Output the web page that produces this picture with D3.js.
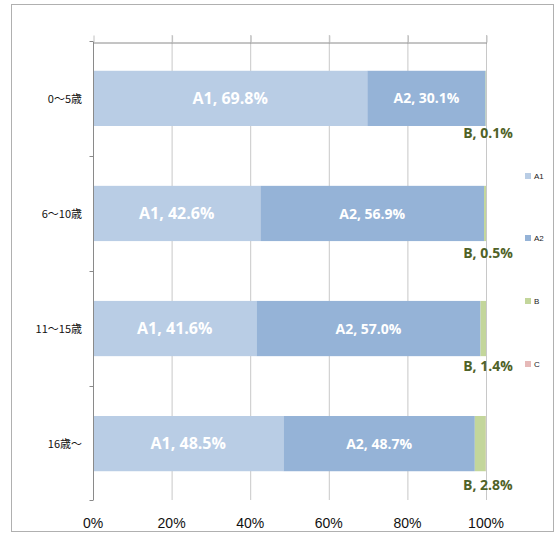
<!DOCTYPE html>
<html>
<head>
<meta charset="utf-8">
<script src="https://cdn.jsdelivr.net/npm/d3@7"></script>
<style>
  body { margin: 0; background: #fff; }
  svg { display: block; font-family: "Liberation Sans", Arial, sans-serif; }
</style>
</head>
<body>
<svg id="chart" width="556" height="533"></svg>
<script>
// data
var categories = ["0～5歳", "6～10歳", "11～15歳", "16歳～"];
var seriesNames = ["A1", "A2", "B", "C"];
var a1 = [69.8, 42.6, 41.6, 48.5];
var a2 = [30.1, 56.9, 57.0, 48.7];
var b  = [0.1, 0.5, 1.4, 2.8];
var c  = [0.0, 0.0, 0.0, 0.05];
var xTicks = [0, 0.2, 0.4, 0.6, 0.8, 1.0];

var colors = ["#b9cde5", "#95b3d7", "#c3d69b", "#e6b9b8"];
// B labels were nudged by hand in the original, offset below each bar
var bLabelDy = [7, 12, 10, 14];

var svg = d3.select("#chart");

// outer frame
svg.append("rect")
    .attr("x", 11.5).attr("y", 4.5)
    .attr("width", 542).attr("height", 527)
    .attr("fill", "#fff")
    .attr("stroke", "#b0b0b0");

var x = d3.scaleLinear().domain([0, 1]).range([93, 486]);
var y = d3.scaleBand().domain(categories).range([42, 500])
    .paddingInner(0.52).paddingOuter(0.25);

// rows -> stacked
var rows = categories.map(function(cat, i) {
    var tot = a1[i] + a2[i] + b[i] + c[i];
    return { cat: cat, i: i, A1: a1[i] / tot, A2: a2[i] / tot, B: b[i] / tot, C: c[i] / tot,
             raw: { A1: a1[i], A2: a2[i], B: b[i], C: c[i] } };
});
var stack = d3.stack().keys(seriesNames)(rows);

// gridlines
svg.append("g").selectAll("line")
    .data(xTicks.slice(1))
    .enter().append("line")
    .attr("x1", function(d) { return x(d) + 0.5; })
    .attr("x2", function(d) { return x(d) + 0.5; })
    .attr("y1", 35).attr("y2", 500)
    .attr("stroke", "#c8c8c8");

// top axis (no labels)
var topAxis = svg.append("g").attr("transform", "translate(0.5,42.5)")
    .call(d3.axisTop(x).tickValues(xTicks).tickSize(7).tickSizeOuter(0).tickFormat(""));
topAxis.select(".domain").attr("stroke", "#8a8a8a");
topAxis.selectAll(".tick line").attr("stroke", "#c0c0c0");

// bars
var layer = svg.append("g").selectAll("g")
    .data(stack)
    .enter().append("g")
    .attr("fill", function(d, i) { return colors[i]; });

layer.selectAll("rect")
    .data(function(d) { return d; })
    .enter().append("rect")
    .attr("x", function(d) { return x(d[0]); })
    .attr("y", function(d) { return y(d.data.cat); })
    .attr("width", function(d) { return x(d[1]) - x(d[0]); })
    .attr("height", y.bandwidth());

// left axis
var leftAxis = svg.append("g").attr("transform", "translate(93.5,0)");
leftAxis.append("line").attr("y1", 42).attr("y2", 500).attr("stroke", "#8a8a8a");
var bounds = categories.map(function(c) { return y(c) - y.step() * y.paddingInner() / 2; });
bounds.push(500);
leftAxis.selectAll("line.t").data(bounds).enter().append("line")
    .attr("class", "t")
    .attr("x1", -4).attr("x2", 0)
    .attr("y1", function(d) { return Math.round(d) + 0.5; })
    .attr("y2", function(d) { return Math.round(d) + 0.5; })
    .attr("stroke", "#8a8a8a");

// category labels
svg.append("g").selectAll("text")
    .data(categories)
    .enter().append("text")
    .attr("x", 82)
    .attr("y", function(d) { return y(d) + y.bandwidth() / 2; })
    .attr("dy", "0.38em")
    .attr("text-anchor", "end")
    .attr("font-family", "'Noto Sans CJK JP', sans-serif")
    .attr("font-size", 11)
    .attr("fill", "#111")
    .text(function(d) { return d; });

// bottom labels
svg.append("g").selectAll("text")
    .data(xTicks)
    .enter().append("text")
    .attr("x", function(d) { return x(d); })
    .attr("y", 528)
    .attr("text-anchor", "middle")
    .attr("font-size", 14)
    .attr("fill", "#111")
    .text(function(d) { return Math.round(d * 100) + "%"; });

// A1 / A2 labels inside
["A1", "A2"].forEach(function(key, k) {
    svg.append("g").selectAll("text")
        .data(stack[k])
        .enter().append("text")
        .attr("x", function(d) { return (x(d[0]) + x(d[1])) / 2; })
        .attr("y", function(d) { return y(d.data.cat) + y.bandwidth() / 2; })
        .attr("dy", "0.36em")
        .attr("text-anchor", "middle")
        .attr("font-family", "'Open Sans', sans-serif")
        .attr("font-weight", "bold")
        .attr("font-size", k === 0 ? 16 : 14)
        .attr("fill", "#fff")
        .text(function(d) { return key + ", " + d.data.raw[key].toFixed(1) + "%"; });
});

// B labels below bars
svg.append("g").selectAll("text")
    .data(stack[2])
    .enter().append("text")
    .attr("x", function(d) { return x(d[1]) + 2; })
    .attr("y", function(d) { return y(d.data.cat) + y.bandwidth() + bLabelDy[d.data.i]; })
    .attr("dy", "0.36em")
    .attr("text-anchor", "middle")
    .attr("font-family", "'Open Sans', sans-serif")
    .attr("font-weight", "bold")
    .attr("font-size", 14)
    .attr("fill", "#4f6228")
    .text(function(d) { return "B, " + d.data.raw.B.toFixed(1) + "%"; });

// legend
var legendY = [176, 238, 301, 364];
var legend = svg.append("g").selectAll("g")
    .data(seriesNames)
    .enter().append("g")
    .attr("transform", function(d, i) { return "translate(525," + legendY[i] + ")"; });
legend.append("rect")
    .attr("x", 0).attr("y", -3)
    .attr("width", 6).attr("height", 6)
    .attr("fill", function(d, i) { return colors[i]; });
legend.append("text")
    .attr("x", 9).attr("y", 0).attr("dy", "0.35em")
    .attr("font-size", 8)
    .attr("fill", "#222")
    .text(function(d) { return d; });
</script>
</body>
</html>
